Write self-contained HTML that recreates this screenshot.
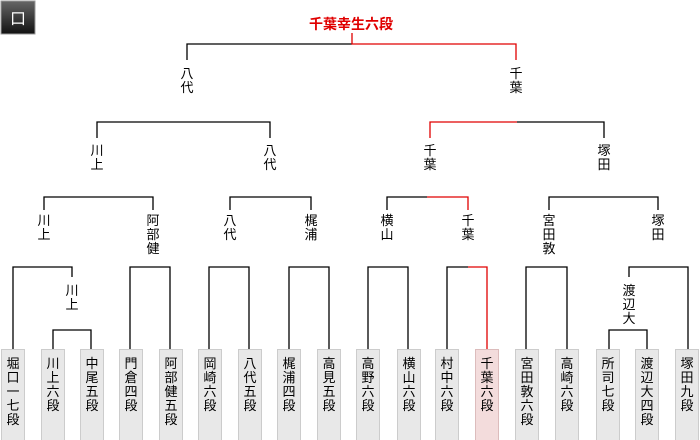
<!DOCTYPE html>
<html><head><meta charset="utf-8"><style>
html,body{margin:0;padding:0;background:#fff;width:700px;height:440px;overflow:hidden}
text{font-family:"Liberation Sans","Noto Sans CJK JP",sans-serif;font-size:13px}
</style></head><body>
<svg width="700" height="440" xmlns="http://www.w3.org/2000/svg">
<defs><linearGradient id="g" x1="0" y1="0" x2="0" y2="1"><stop offset="0" stop-color="#666"/><stop offset="1" stop-color="#111"/></linearGradient></defs>
<rect x="1" y="1" width="34" height="33" fill="url(#g)" stroke="#999"/>
<text x="18" y="24" fill="#fff" text-anchor="middle" style="font-size:16px">口</text>
<text x="351" y="29" fill="#e00000" text-anchor="middle" font-weight="bold" style="font-size:14px">千葉幸生六段</text>
<g fill="none" stroke="#000" stroke-width="1.3">
<!-- level3 -->
<path d="M187 60V44H352"/>
<!-- level2 -->
<path d="M97 138V122H270V138"/>
<path d="M517 122H604V138"/>
<!-- level1 -->
<path d="M44 210V197H153V210"/>
<path d="M230 210V197H311V210"/>
<path d="M387 210V197H427"/>
<path d="M549 210V197H658V210"/>
<!-- level0 -->
<path d="M13 349V267H72V277"/>
<path d="M53 349V330H91V349"/>
<path d="M130 349V267H170V349"/>
<path d="M209 349V267H249V349"/>
<path d="M289 349V267H329V349"/>
<path d="M368 349V267H408V349"/>
<path d="M447 349V267H468"/>
<path d="M526 349V267H567V349"/>
<path d="M629 277V267H688V349"/>
<path d="M609 349V330H647V349"/>
</g>
<g fill="none" stroke="#e00000" stroke-width="1.3">
<path d="M352 33V44H516V60"/>
<path d="M430 138V122H517"/>
<path d="M427 197H468V210"/>
<path d="M468 267H487V349"/>
</g>
<g fill="#000" text-anchor="middle">
<text x="187" y="78">八<tspan x="187" dy="14">代</tspan></text>
<text x="516" y="78">千<tspan x="516" dy="14">葉</tspan></text>
<text x="97" y="155">川<tspan x="97" dy="14">上</tspan></text>
<text x="270" y="155">八<tspan x="270" dy="14">代</tspan></text>
<text x="430" y="155">千<tspan x="430" dy="14">葉</tspan></text>
<text x="604" y="155">塚<tspan x="604" dy="14">田</tspan></text>
<text x="44" y="225">川<tspan x="44" dy="14">上</tspan></text>
<text x="153" y="225">阿<tspan x="153" dy="14">部</tspan><tspan x="153" dy="14">健</tspan></text>
<text x="230" y="225">八<tspan x="230" dy="14">代</tspan></text>
<text x="311" y="225">梶<tspan x="311" dy="14">浦</tspan></text>
<text x="387" y="225">横<tspan x="387" dy="14">山</tspan></text>
<text x="468" y="225">千<tspan x="468" dy="14">葉</tspan></text>
<text x="549" y="225">宮<tspan x="549" dy="14">田</tspan><tspan x="549" dy="14">敦</tspan></text>
<text x="658" y="225">塚<tspan x="658" dy="14">田</tspan></text>
<text x="72" y="295">川<tspan x="72" dy="14">上</tspan></text>
<text x="629" y="295">渡<tspan x="629" dy="14">辺</tspan><tspan x="629" dy="14">大</tspan></text>
</g>
<g stroke="#ccc" fill="#e8e8e8">
<rect x="1.5" y="349.5" width="23" height="92"/>
<rect x="41.5" y="349.5" width="23" height="92"/>
<rect x="80.5" y="349.5" width="23" height="92"/>
<rect x="119.5" y="349.5" width="23" height="92"/>
<rect x="159.5" y="349.5" width="23" height="92"/>
<rect x="198.5" y="349.5" width="23" height="92"/>
<rect x="238.5" y="349.5" width="23" height="92"/>
<rect x="277.5" y="349.5" width="23" height="92"/>
<rect x="317.5" y="349.5" width="23" height="92"/>
<rect x="356.5" y="349.5" width="23" height="92"/>
<rect x="397.5" y="349.5" width="23" height="92"/>
<rect x="435.5" y="349.5" width="23" height="92"/>
<rect x="475.5" y="349.5" width="23" height="92" fill="#f3dcdc" stroke="#dcbcbc"/>
<rect x="515.5" y="349.5" width="23" height="92"/>
<rect x="555.5" y="349.5" width="23" height="92"/>
<rect x="596.5" y="349.5" width="23" height="92"/>
<rect x="635.5" y="349.5" width="23" height="92"/>
<rect x="675.5" y="349.5" width="23" height="92"/>
</g>
<g fill="#000" text-anchor="middle">
<text x="13" y="368">堀<tspan x="13" dy="14">口</tspan><tspan x="13" dy="14">一</tspan><tspan x="13" dy="14">七</tspan><tspan x="13" dy="14">段</tspan></text>
<text x="53" y="368">川<tspan x="53" dy="14">上</tspan><tspan x="53" dy="14">六</tspan><tspan x="53" dy="14">段</tspan></text>
<text x="92" y="368">中<tspan x="92" dy="14">尾</tspan><tspan x="92" dy="14">五</tspan><tspan x="92" dy="14">段</tspan></text>
<text x="131" y="368">門<tspan x="131" dy="14">倉</tspan><tspan x="131" dy="14">四</tspan><tspan x="131" dy="14">段</tspan></text>
<text x="171" y="368">阿<tspan x="171" dy="14">部</tspan><tspan x="171" dy="14">健</tspan><tspan x="171" dy="14">五</tspan><tspan x="171" dy="14">段</tspan></text>
<text x="210" y="368">岡<tspan x="210" dy="14">崎</tspan><tspan x="210" dy="14">六</tspan><tspan x="210" dy="14">段</tspan></text>
<text x="250" y="368">八<tspan x="250" dy="14">代</tspan><tspan x="250" dy="14">五</tspan><tspan x="250" dy="14">段</tspan></text>
<text x="289" y="368">梶<tspan x="289" dy="14">浦</tspan><tspan x="289" dy="14">四</tspan><tspan x="289" dy="14">段</tspan></text>
<text x="329" y="368">高<tspan x="329" dy="14">見</tspan><tspan x="329" dy="14">五</tspan><tspan x="329" dy="14">段</tspan></text>
<text x="368" y="368">高<tspan x="368" dy="14">野</tspan><tspan x="368" dy="14">六</tspan><tspan x="368" dy="14">段</tspan></text>
<text x="409" y="368">横<tspan x="409" dy="14">山</tspan><tspan x="409" dy="14">六</tspan><tspan x="409" dy="14">段</tspan></text>
<text x="447" y="368">村<tspan x="447" dy="14">中</tspan><tspan x="447" dy="14">六</tspan><tspan x="447" dy="14">段</tspan></text>
<text x="487" y="368">千<tspan x="487" dy="14">葉</tspan><tspan x="487" dy="14">六</tspan><tspan x="487" dy="14">段</tspan></text>
<text x="527" y="368">宮<tspan x="527" dy="14">田</tspan><tspan x="527" dy="14">敦</tspan><tspan x="527" dy="14">六</tspan><tspan x="527" dy="14">段</tspan></text>
<text x="567" y="368">高<tspan x="567" dy="14">崎</tspan><tspan x="567" dy="14">六</tspan><tspan x="567" dy="14">段</tspan></text>
<text x="608" y="368">所<tspan x="608" dy="14">司</tspan><tspan x="608" dy="14">七</tspan><tspan x="608" dy="14">段</tspan></text>
<text x="647" y="368">渡<tspan x="647" dy="14">辺</tspan><tspan x="647" dy="14">大</tspan><tspan x="647" dy="14">四</tspan><tspan x="647" dy="14">段</tspan></text>
<text x="687" y="368">塚<tspan x="687" dy="14">田</tspan><tspan x="687" dy="14">九</tspan><tspan x="687" dy="14">段</tspan></text>
</g>
</svg>
</body></html>
